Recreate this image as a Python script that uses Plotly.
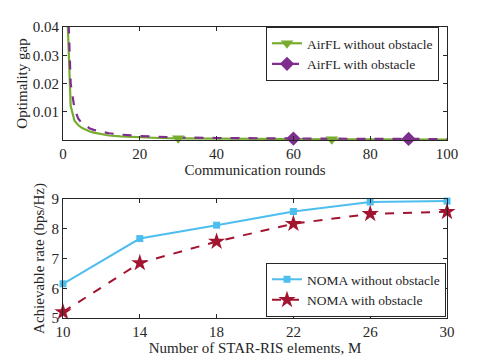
import plotly.graph_objects as go

# top panel: optimality gap vs communication rounds
rounds = [1, 2, 3, 4, 5, 6, 7, 8, 9, 10, 12, 15, 20, 25, 30, 40, 50, 60, 70, 80, 90, 100]
gap_no_obst = [0.05, 0.012, 0.0068, 0.0052, 0.0042, 0.0035, 0.003, 0.0026, 0.0023, 0.002,
               0.0016, 0.0013, 0.0009, 0.0007, 0.0006, 0.00045, 0.00036, 0.0003, 0.00026,
               0.00023, 0.0002, 0.00018]
gap_obst = [0.06, 0.02, 0.011, 0.0075, 0.0058, 0.0048, 0.0041, 0.0036, 0.0032, 0.0029,
            0.0024, 0.0019, 0.0014, 0.0011, 0.0009, 0.0007, 0.00058, 0.0005, 0.00045,
            0.0004, 0.00037, 0.00035]
mark_no_obst = [30, 70]
mark_obst = [60, 90]

# bottom panel: achievable rate vs number of elements
elements = [10, 14, 18, 22, 26, 30]
rate_no_obst = [6.15, 7.67, 8.12, 8.58, 8.9, 8.93]
rate_obst = [5.2, 6.85, 7.57, 8.17, 8.5, 8.57]

GREEN = '#77AC30'
PURPLE = '#7E2F8E'
BLUE = '#4DBEEE'
RED = '#A2142F'
FONT = 'Liberation Serif'
AX = '#262626'

# page body has an 8px margin, so the figure sits at (8, 8) in the window
OFF = 8
W, H = 485 - OFF, 363 - OFF


def px_x(v):
    return (v - OFF) / W


def px_y(v):
    return 1 - (v - OFF) / H


fig = go.Figure()

# top panel lines
fig.add_trace(go.Scatter(x=rounds, y=gap_no_obst, mode='lines', line=dict(color=GREEN, width=2.2),
                         showlegend=False, xaxis='x', yaxis='y'))
fig.add_trace(go.Scatter(x=rounds, y=gap_obst, mode='lines', line=dict(color=PURPLE, width=2.2, dash='dash'),
                         showlegend=False, xaxis='x', yaxis='y'))
fig.add_trace(go.Scatter(x=mark_no_obst, y=[gap_no_obst[rounds.index(r)] for r in mark_no_obst],
                         mode='markers', marker=dict(symbol='triangle-down', size=11, color=GREEN),
                         showlegend=False, cliponaxis=False, xaxis='x', yaxis='y'))
fig.add_trace(go.Scatter(x=mark_obst, y=[gap_obst[rounds.index(r)] for r in mark_obst],
                         mode='markers', marker=dict(symbol='diamond', size=11, color=PURPLE),
                         showlegend=False, cliponaxis=False, xaxis='x', yaxis='y'))
# legend entries
fig.add_trace(go.Scatter(x=[None], y=[None], mode='lines+markers', name='AirFL without obstacle',
                         line=dict(color=GREEN, width=2.2),
                         marker=dict(symbol='triangle-down', size=11, color=GREEN),
                         legend='legend', xaxis='x', yaxis='y'))
fig.add_trace(go.Scatter(x=[None], y=[None], mode='lines+markers', name='AirFL with obstacle',
                         line=dict(color=PURPLE, width=2.2, dash='dash'),
                         marker=dict(symbol='diamond', size=11, color=PURPLE),
                         legend='legend', xaxis='x', yaxis='y'))

# bottom panel
fig.add_trace(go.Scatter(x=elements, y=rate_no_obst, mode='lines+markers', name='NOMA without obstacle',
                         line=dict(color=BLUE, width=2),
                         marker=dict(symbol='square', size=7, color=BLUE),
                         cliponaxis=False, legend='legend2', xaxis='x2', yaxis='y2'))
fig.add_trace(go.Scatter(x=elements, y=rate_obst, mode='lines+markers', name='NOMA with obstacle',
                         line=dict(color=RED, width=2, dash='dash'),
                         marker=dict(symbol='star', size=13, color=RED),
                         cliponaxis=False, legend='legend2', xaxis='x2', yaxis='y2'))

axis_common = dict(
    showline=True, linecolor=AX, linewidth=1, mirror='ticks',
    ticks='inside', ticklen=4, tickcolor=AX, showgrid=False, zeroline=False,
    automargin=False,
    tickfont=dict(family=FONT, size=15, color=AX),
)
title_font = dict(family=FONT, size=15, color=AX)
legend_font = dict(family=FONT, size=13.5, color=AX)

xdom = [px_x(63), px_x(447)]

fig.update_layout(
    width=W, height=H,
    margin=dict(l=0, r=0, t=0, b=0),
    paper_bgcolor='white', plot_bgcolor='white',
    font=dict(family=FONT, color=AX),
    xaxis=dict(domain=xdom, range=[0, 100], tickvals=[0, 20, 40, 60, 80, 100], anchor='y',
               title=dict(text='Communication rounds', font=title_font, standoff=2),
               **axis_common),
    yaxis=dict(domain=[px_y(140), px_y(27)], range=[0, 0.04], tickvals=[0.01, 0.02, 0.03, 0.04],
               anchor='x',
               title=dict(text='Optimality gap', font=title_font, standoff=1),
               **axis_common),
    xaxis2=dict(domain=xdom, range=[10, 30], tickvals=elements, anchor='y2',
                title=dict(text='Number of STAR-RIS elements, M', font=title_font, standoff=3),
                **axis_common),
    yaxis2=dict(domain=[px_y(318), px_y(199)], range=[5, 9], tickvals=[5, 6, 7, 8, 9], anchor='x2',
                title=dict(text='Achievable rate (bps/Hz)', font=title_font, standoff=3),
                **axis_common),
    legend=dict(x=px_x(439), y=px_y(27), xanchor='right', yanchor='top',
                bgcolor='white', bordercolor=AX, borderwidth=1,
                font=legend_font, tracegroupgap=0, itemwidth=30),
    legend2=dict(x=px_x(446), y=px_y(317), xanchor='right', yanchor='bottom',
                 bgcolor='white', bordercolor=AX, borderwidth=1,
                 font=legend_font, tracegroupgap=0, itemwidth=30),
)

fig.write_html("out.html")
